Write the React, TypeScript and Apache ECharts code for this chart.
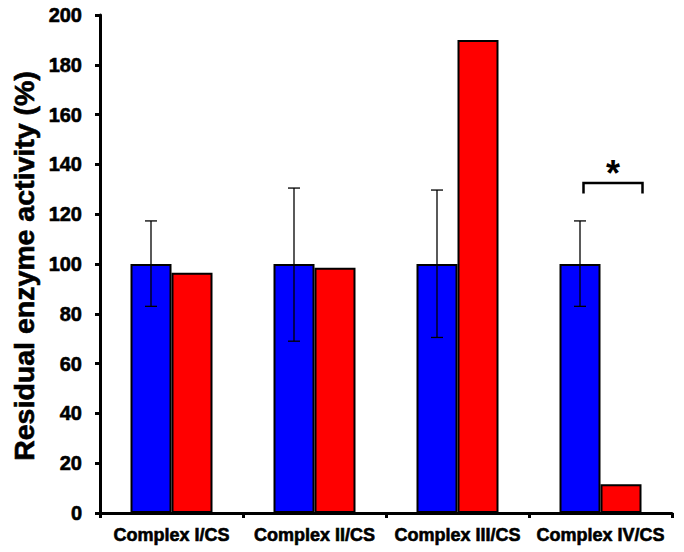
import React, { useEffect, useRef } from 'react';
import * as echarts from 'echarts';

const categories = ['Complex I/CS', 'Complex II/CS', 'Complex III/CS', 'Complex IV/CS'];
const controlValues = [100, 100, 100, 100];
const treatedValues = [96.5, 98.5, 190, 11.5];
const errorLow = [83, 69, 70.5, 83];
const errorHigh = [117.3, 130.5, 129.7, 117.3];
const yMin = 0;
const yMax = 200;
const yInterval = 20;
const yAxisTitle = 'Residual enzyme activity (%)';
const significanceCategory = 3;
const bracketTop = 132.5;
const bracketLeg = 128.3;

const BAR_W = 41;
const FONT = '"Liberation Sans", Arial, sans-serif';

export default function App() {
  const ref = useRef<HTMLDivElement>(null);
  useEffect(() => {
    document.body.style.margin = '0';
    const chart = echarts.init(ref.current!, null, { renderer: 'svg' });
    const heavy = { textBorderColor: '#000', textBorderWidth: 0.6 };
    const option: any = {
      animation: false,
      backgroundColor: '#fff',
      grid: { left: 100, right: 12, top: 15, bottom: 39, containLabel: false },
      xAxis: {
        type: 'category',
        data: categories,
        boundaryGap: true,
        axisLine: { lineStyle: { color: '#000', width: 3 } },
        axisTick: { show: true, length: 5, interval: 0, lineStyle: { color: '#000', width: 3 } },
        axisLabel: { interval: 0, margin: 13, color: '#000', fontFamily: FONT, fontWeight: 'bold', fontSize: 18, ...heavy },
        splitLine: { show: false },
      },
      yAxis: {
        type: 'value',
        min: yMin,
        max: yMax,
        interval: yInterval,
        axisLine: { show: true, lineStyle: { color: '#000', width: 3 } },
        axisTick: { show: true, length: 5, lineStyle: { color: '#000', width: 3 } },
        axisLabel: { margin: 18, color: '#000', fontFamily: FONT, fontWeight: 'bold', fontSize: 20, ...heavy },
        splitLine: { show: false },
      },
      series: [
        {
          type: 'bar',
          data: controlValues,
          barWidth: BAR_W,
          barGap: '0%',
          itemStyle: { color: '#0000FF', borderColor: '#000', borderWidth: 2 },
        },
        {
          type: 'bar',
          data: treatedValues,
          barWidth: BAR_W,
          barGap: '0%',
          itemStyle: { color: '#FF0000', borderColor: '#000', borderWidth: 2 },
        },
        {
          type: 'custom',
          z: 10,
          encode: { x: 0, y: [1, 2] },
          data: categories.map((_, i) => [i, errorLow[i], errorHigh[i]]),
          renderItem: (params: any, api: any) => {
            const idx = api.value(0);
            const lo = api.coord([idx, api.value(1)]);
            const hi = api.coord([idx, api.value(2)]);
            const x = lo[0] - BAR_W / 2;
            const st = { stroke: '#000', lineWidth: 1.3 };
            return {
              type: 'group',
              children: [
                { type: 'line', shape: { x1: x, y1: lo[1], x2: x, y2: hi[1] }, style: st },
                { type: 'line', shape: { x1: x - 6, y1: hi[1], x2: x + 6, y2: hi[1] }, style: st },
                { type: 'line', shape: { x1: x - 6, y1: lo[1], x2: x + 6, y2: lo[1] }, style: st },
              ],
            };
          },
        },
      ],
    };
    chart.setOption(option);

    const c = chart.convertToPixel({ gridIndex: 0 }, [significanceCategory, bracketTop]) as number[];
    const leg = chart.convertToPixel({ gridIndex: 0 }, [significanceCategory, bracketLeg]) as number[];
    const x1 = c[0] - 17;
    const x2 = c[0] + 42;
    chart.setOption({
      graphic: [
        {
          type: 'text',
          x: 24,
          y: 266,
          rotation: Math.PI / 2,
          style: {
            text: yAxisTitle,
            font: `bold 28.5px ${FONT}`,
            fill: '#000',
            stroke: '#000',
            lineWidth: 0.6,
            textAlign: 'center',
            textVerticalAlign: 'middle',
          },
        },
        {
          type: 'polyline',
          shape: { points: [[x1, leg[1]], [x1, c[1]], [x2, c[1]], [x2, leg[1]]] },
          style: { stroke: '#000', lineWidth: 2.5, fill: null },
          z: 20,
        },
        {
          type: 'text',
          x: (x1 + x2) / 2,
          y: c[1] + 8,
          style: {
            text: '*',
            font: `bold 36px ${FONT}`,
            fill: '#000',
            textAlign: 'center',
            textVerticalAlign: 'bottom',
          },
          z: 20,
        },
      ],
    });
    return () => chart.dispose();
  }, []);
  return <div ref={ref} style={{ position: 'absolute', left: 0, top: 0, width: 684, height: 552 }} />;
}
